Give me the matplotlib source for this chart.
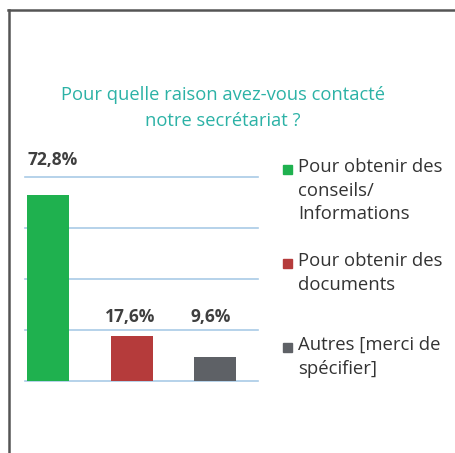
import matplotlib
matplotlib.use("Agg")
import matplotlib.pyplot as plt
from matplotlib.lines import Line2D
from matplotlib.patches import Rectangle

plt.rcParams['font.family'] = ['Open Sans', 'DejaVu Sans']

# data
categories = ["Pour obtenir des\nconseils/\nInformations",
              "Pour obtenir des\ndocuments",
              "Autres [merci de\nspécifier]"]
values = [72.8, 17.6, 9.6]
value_labels = ["72,8%", "17,6%", "9,6%"]
colors = ['#1fb14f', '#b53b3b', '#5e6166']
title = "Pour quelle raison avez-vous contacté\nnotre secrétariat ?"

W, H = 455, 453
fig = plt.figure(figsize=(W / 100, H / 100), dpi=100)
fig.patch.set_facecolor('white')

def fx(px):
  return px / W

def fy(py):
  return 1 - py / H

# plot area
ax = fig.add_axes([fx(25), fy(381), fx(258) - fx(25), fy(177) - fy(381)])
xpos = [0, 1.01, 1.99]
ax.bar(xpos, values, width=0.5, color=colors, zorder=3)
ax.set_xlim(-0.268, 2.506)
ax.set_ylim(0, 80)
for yv in [0, 20, 40, 60, 80]:
  ax.axhline(yv, color='#a9cbe6', lw=1.2, zorder=1, clip_on=False)
for s in ax.spines.values():
  s.set_visible(False)
ax.set_xticks([])
ax.set_yticks([])
ax.patch.set_alpha(0)

# value labels
label_y = [86.5, 25.0, 25.0]
label_dx = [0.06, -0.03, -0.05]
for x, y, dx, t in zip(xpos, label_y, label_dx, value_labels):
  ax.text(x + dx, y, t, ha='center', va='center', fontsize=12.5,
          color='#3f3f3f', fontweight='bold', clip_on=False)

# title
fig.text(fx(223), fy(108), title, ha='center', va='center', fontsize=13.2,
         color='#2cb2a6', linespacing=1.55)

# legend (manual placement to match uneven spacing)
leg_y = [169, 263, 347]
for c, lab, y in zip(colors, categories, leg_y):
  fig.add_artist(Rectangle((fx(283), fy(y + 4.5)), fx(9), fy(0) - fy(9),
                           transform=fig.transFigure, color=c))
  fig.text(fx(298), fy(y - 11), lab, ha='left', va='top', fontsize=13.3,
           color='#333333', linespacing=1.4)

# frame
fig.add_artist(Line2D([fx(8), 1], [fy(10), fy(10)], color='#555555', lw=1.8,
                      transform=fig.transFigure))
fig.add_artist(Line2D([fx(9), fx(9)], [fy(10), 0], color='#555555', lw=1.8,
                      transform=fig.transFigure))

fig.savefig('out.png', dpi=100)
